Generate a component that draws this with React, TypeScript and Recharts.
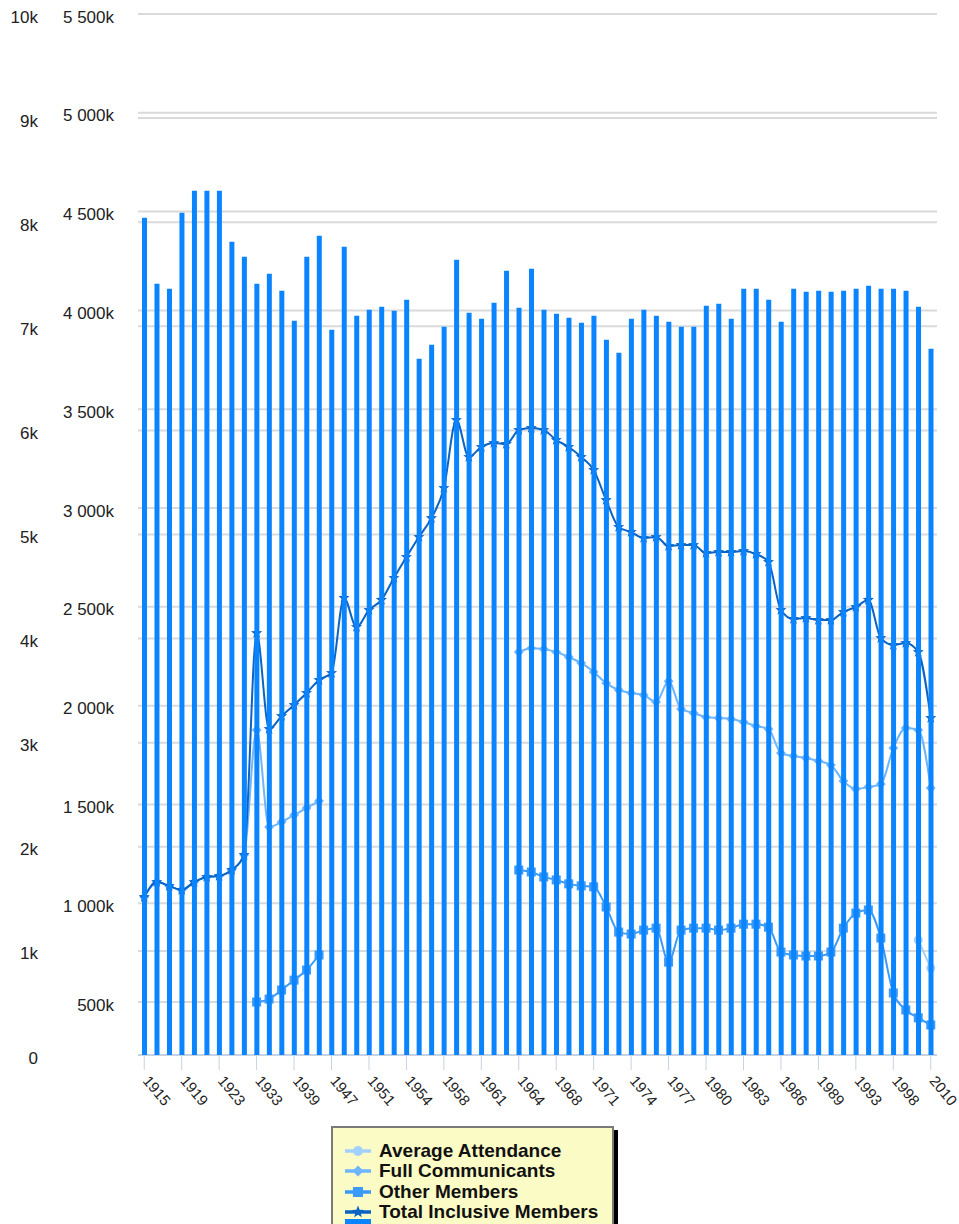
import React from "react";
import {
  ComposedChart,
  Bar,
  Line,
  XAxis,
  YAxis,
  CartesianGrid,
  Legend,
} from "recharts";

const FONT = "'Liberation Sans', Arial, Helvetica, sans-serif";

// survey years (every third one is labelled on the axis)
const years = [
  1915, 1916, 1917, 1919, 1920, 1922, 1923, 1926, 1930, 1933, 1935, 1937, 1939,
  1941, 1944, 1947, 1949, 1950, 1951, 1952, 1953, 1954, 1955, 1956, 1958, 1959,
  1960, 1961, 1962, 1963, 1964, 1965, 1966, 1968, 1969, 1970, 1971, 1972, 1973,
  1974, 1975, 1976, 1977, 1978, 1979, 1980, 1981, 1982, 1983, 1984, 1985, 1986,
  1987, 1988, 1989, 1990, 1991, 1993, 1994, 1996, 1998, 2000, 2005, 2010,
];

// bars, outer left axis (count)
const parishes = [
  8043, 7409, 7361, 8091, 8302, 8302, 8302, 7812, 7668, 7409,
  7505, 7341, 7053, 7668, 7870, 6966, 7764, 7101, 7159, 7188,
  7149, 7255, 6688, 6822, 6995, 7639, 7130, 7072, 7226, 7533,
  7178, 7553, 7159, 7120, 7082, 7034, 7101, 6870, 6745, 7072,
  7159, 7101, 7043, 6995, 6995, 7197, 7216, 7072, 7361, 7361,
  7255, 7043, 7361, 7332, 7341, 7332, 7341, 7361, 7389, 7361,
  7361, 7341, 7188, 6784,
];

// lines, inner left axis (thousands)
const totalMembers = [
  1031, 1107, 1087, 1067, 1107, 1133, 1138, 1168, 1244, 2367,
  1882, 1947, 2003, 2064, 2130, 2165, 2545, 2398, 2484, 2535,
  2646, 2752, 2853, 2949, 3101, 3445, 3258, 3309, 3329, 3324,
  3395, 3405, 3395, 3344, 3309, 3258, 3192, 3040, 2904, 2878,
  2848, 2853, 2808, 2813, 2813, 2772, 2777, 2777, 2782, 2767,
  2727, 2484, 2438, 2443, 2433, 2433, 2474, 2499, 2535, 2342,
  2307, 2317, 2271, 1937,
];

const fullCommunicants = [
  1031, 1107, 1087, 1067, 1107, 1133, 1138, 1168, 1244, 1877,
  1386, 1411, 1446, 1482, 1517, null, null, null, null, null,
  null, null, null, null, null, null, null, null, null, null,
  2271, 2291, 2286, 2271, 2246, 2216, 2170, 2114, 2079, 2064,
  2054, 2018, 2124, 1983, 1963, 1942, 1937, 1932, 1917, 1897,
  1882, 1760, 1745, 1735, 1720, 1699, 1618, 1578, 1588, 1603,
  1785, 1887, 1877, 1583,
];

const otherMembers = [
  null, null, null, null, null, null, null, null, null, 500,
  515, 561, 611, 662, 738, null, null, null, null, null,
  null, null, null, null, null, null, null, null, null, null,
  1168, 1158, 1133, 1118, 1098, 1088, 1083, 981, 854, 844,
  864, 874, 702, 864, 874, 874, 864, 874, 894, 894,
  879, 753, 738, 733, 733, 753, 874, 950, 966, 824,
  546, 460, 420, 384,
];

// only reported for the last two years
const avgAttendance: Record<number, number> = { 2005: 814, 2010: 672 };

const countTicks = [0, 1000, 2000, 3000, 4000, 5000, 6000, 7000, 8000, 9000, 10000];
const memberTicks = [500, 1000, 1500, 2000, 2500, 3000, 3500, 4000, 4500, 5000, 5500];

const data = years.map((year, i) => ({
  year,
  parishes: parishes[i],
  total: totalMembers[i],
  full: fullCommunicants[i],
  other: otherMembers[i],
  attendance: avgAttendance[year] ?? null,
}));

type Shape = "circle" | "diamond" | "square" | "star" | "bar";

const lineSeries: { key: string; name: string; color: string; shape: Shape }[] = [
  { key: "attendance", name: "Average Attendance", color: "#a3d1ff", shape: "circle" },
  { key: "full", name: "Full Communicants", color: "#6db5ff", shape: "diamond" },
  { key: "other", name: "Other Members", color: "#3a9afa", shape: "square" },
  { key: "total", name: "Total Inclusive Members", color: "#0b63c4", shape: "star" },
];
const barSeries = { key: "parishes", name: "Parishes and Missions", color: "#0a84ff", shape: "bar" as Shape };

const fmtMembers = (v: number) =>
  v >= 1000 ? `${Math.floor(v / 1000)} ${String(v % 1000).padStart(3, "0")}k` : `${v}k`;
const fmtCount = (v: number) => (v === 0 ? "0" : `${v / 1000}k`);

function starPoints(cx: number, cy: number, R: number, r: number) {
  const pts: string[] = [];
  for (let k = 0; k < 10; k++) {
    const rad = k % 2 === 0 ? R : r;
    const a = -Math.PI / 2 + (k * Math.PI) / 5;
    pts.push(`${cx + rad * Math.cos(a)},${cy + rad * Math.sin(a)}`);
  }
  return pts.join(" ");
}

function Marker({ shape, cx, cy, color, s = 1 }: { shape: Shape; cx: number; cy: number; color: string; s?: number }) {
  if (shape === "circle") return <circle cx={cx} cy={cy} r={5 * s} fill={color} />;
  if (shape === "diamond") {
    const d = 5.5 * s;
    return <polygon points={`${cx},${cy - d} ${cx + d},${cy} ${cx},${cy + d} ${cx - d},${cy}`} fill={color} />;
  }
  if (shape === "square") return <rect x={cx - 5 * s} y={cy - 5 * s} width={10 * s} height={10 * s} fill={color} />;
  if (shape === "star") return <polygon points={starPoints(cx, cy, 6.5 * s, 2.8 * s)} fill={color} />;
  return null;
}

// markers ride on the curve path itself, so they share its layer under the bars
const markerCss = lineSeries
  .map((s) => `.s-${s.key} path.recharts-line-curve{marker:url(#mk-${s.key});}`)
  .join("\n");

const XTick = ({ x, y, payload }: any) => (
  <g transform={`translate(${x + 6.5},${y})`}>
    <text transform="rotate(50)" dy="0.75em" textAnchor="start" fontSize={15} fill="#222" fontFamily={FONT}>
      {payload.value}
    </text>
  </g>
);

const YTick = ({ x, y, payload, fmt }: any) => (
  <text x={x} y={y + 2.5} dy="0.355em" textAnchor="end" fontSize={17} fill="#222" fontFamily={FONT}>
    {fmt(payload.value)}
  </text>
);

function LegendBox() {
  const items = [...lineSeries, barSeries];
  return (
    <div
      style={{
        background: "#fbfbc6",
        border: "2px solid #7a7a7a",
        boxShadow: "4px 4px 0 #000",
        padding: "13px 12px 8px 12px",
        width: 283,
        boxSizing: "border-box",
        fontFamily: FONT,
      }}
    >
      {items.map((it) => (
        <div
          key={it.key}
          style={{
            display: "flex",
            alignItems: "center",
            height: 20.3,
            fontSize: 19,
            fontWeight: "bold",
            color: "#111",
            lineHeight: "20.3px",
            whiteSpace: "nowrap",
          }}
        >
          <svg width={34} height={it.shape === "bar" ? 26 : 20} style={{ flex: "none" }}>
            {it.shape === "bar" ? (
              <rect x={0} y={0} width={26} height={26} fill={it.color} />
            ) : (
              <>
                <line x1={0} x2={26} y1={10} y2={10} stroke={it.color} strokeWidth={3.5} />
                <Marker shape={it.shape} cx={13} cy={10} color={it.color} />
              </>
            )}
          </svg>
          <span style={it.shape === "bar" ? { position: "relative", top: 6 } : undefined}>{it.name}</span>
        </div>
      ))}
    </div>
  );
}

export default function App() {
  return (
    <div style={{ position: "absolute", left: 0, top: 0 }}>
      <style>{markerCss}</style>
      <ComposedChart width={959} height={1224} data={data} margin={{ top: 14, right: 22, bottom: 109, left: 0 }}>
        <defs>
          {lineSeries.map((s) => (
            <marker
              key={s.key}
              id={`mk-${s.key}`}
              viewBox="-8 -8 16 16"
              markerWidth={16}
              markerHeight={16}
              refX={0}
              refY={0}
              markerUnits="userSpaceOnUse"
              orient="0"
            >
              <Marker shape={s.shape} cx={0} cy={0} color={s.color} s={0.9} />
            </marker>
          ))}
        </defs>
        <CartesianGrid yAxisId="b-count" vertical={false} stroke="#dadada" strokeWidth={2} />
        <CartesianGrid yAxisId="a-members" vertical={false} stroke="#dadada" strokeWidth={2} />
        <XAxis
          dataKey="year"
          interval={2}
          height={60}
          tickSize={15}
          tickMargin={4}
          axisLine={{ stroke: "#c6d3e2", strokeWidth: 2 }}
          tickLine={{ stroke: "#c6d3e2" }}
          tick={(p: any) => <XTick {...p} />}
        />
        {/* inner axis (next to the plot) */}
        <YAxis
          yAxisId="a-members"
          orientation="left"
          width={98}
          domain={[232, 5500]}
          ticks={memberTicks}
          axisLine={false}
          tickLine={false}
          tickSize={0}
          tickMargin={24}
          tick={(p: any) => <YTick {...p} fmt={fmtMembers} />}
        />
        {/* outer axis */}
        <YAxis
          yAxisId="b-count"
          orientation="left"
          width={40}
          domain={[0, 10000]}
          ticks={countTicks}
          axisLine={false}
          tickLine={false}
          tickSize={0}
          tickMargin={2}
          tick={(p: any) => <YTick {...p} fmt={fmtCount} />}
        />
        {lineSeries.map((s) => (
          <Line
            key={s.key}
            className={`s-${s.key}`}
            yAxisId="a-members"
            type="monotone"
            dataKey={s.key}
            name={s.name}
            stroke={s.color}
            strokeWidth={2}
            connectNulls={false}
            isAnimationActive={false}
            activeDot={false}
            dot={false}
            zIndex={100}
          />
        ))}
        <Bar
          yAxisId="b-count"
          dataKey="parishes"
          name={barSeries.name}
          fill={barSeries.color}
          barSize={5}
          zIndex={1500}
          isAnimationActive={false}
        />
        <Legend
          layout="vertical"
          align="center"
          verticalAlign="middle"
          wrapperStyle={{ left: 331, top: 1126, width: 283 }}
          content={() => <LegendBox />}
        />
      </ComposedChart>
    </div>
  );
}
